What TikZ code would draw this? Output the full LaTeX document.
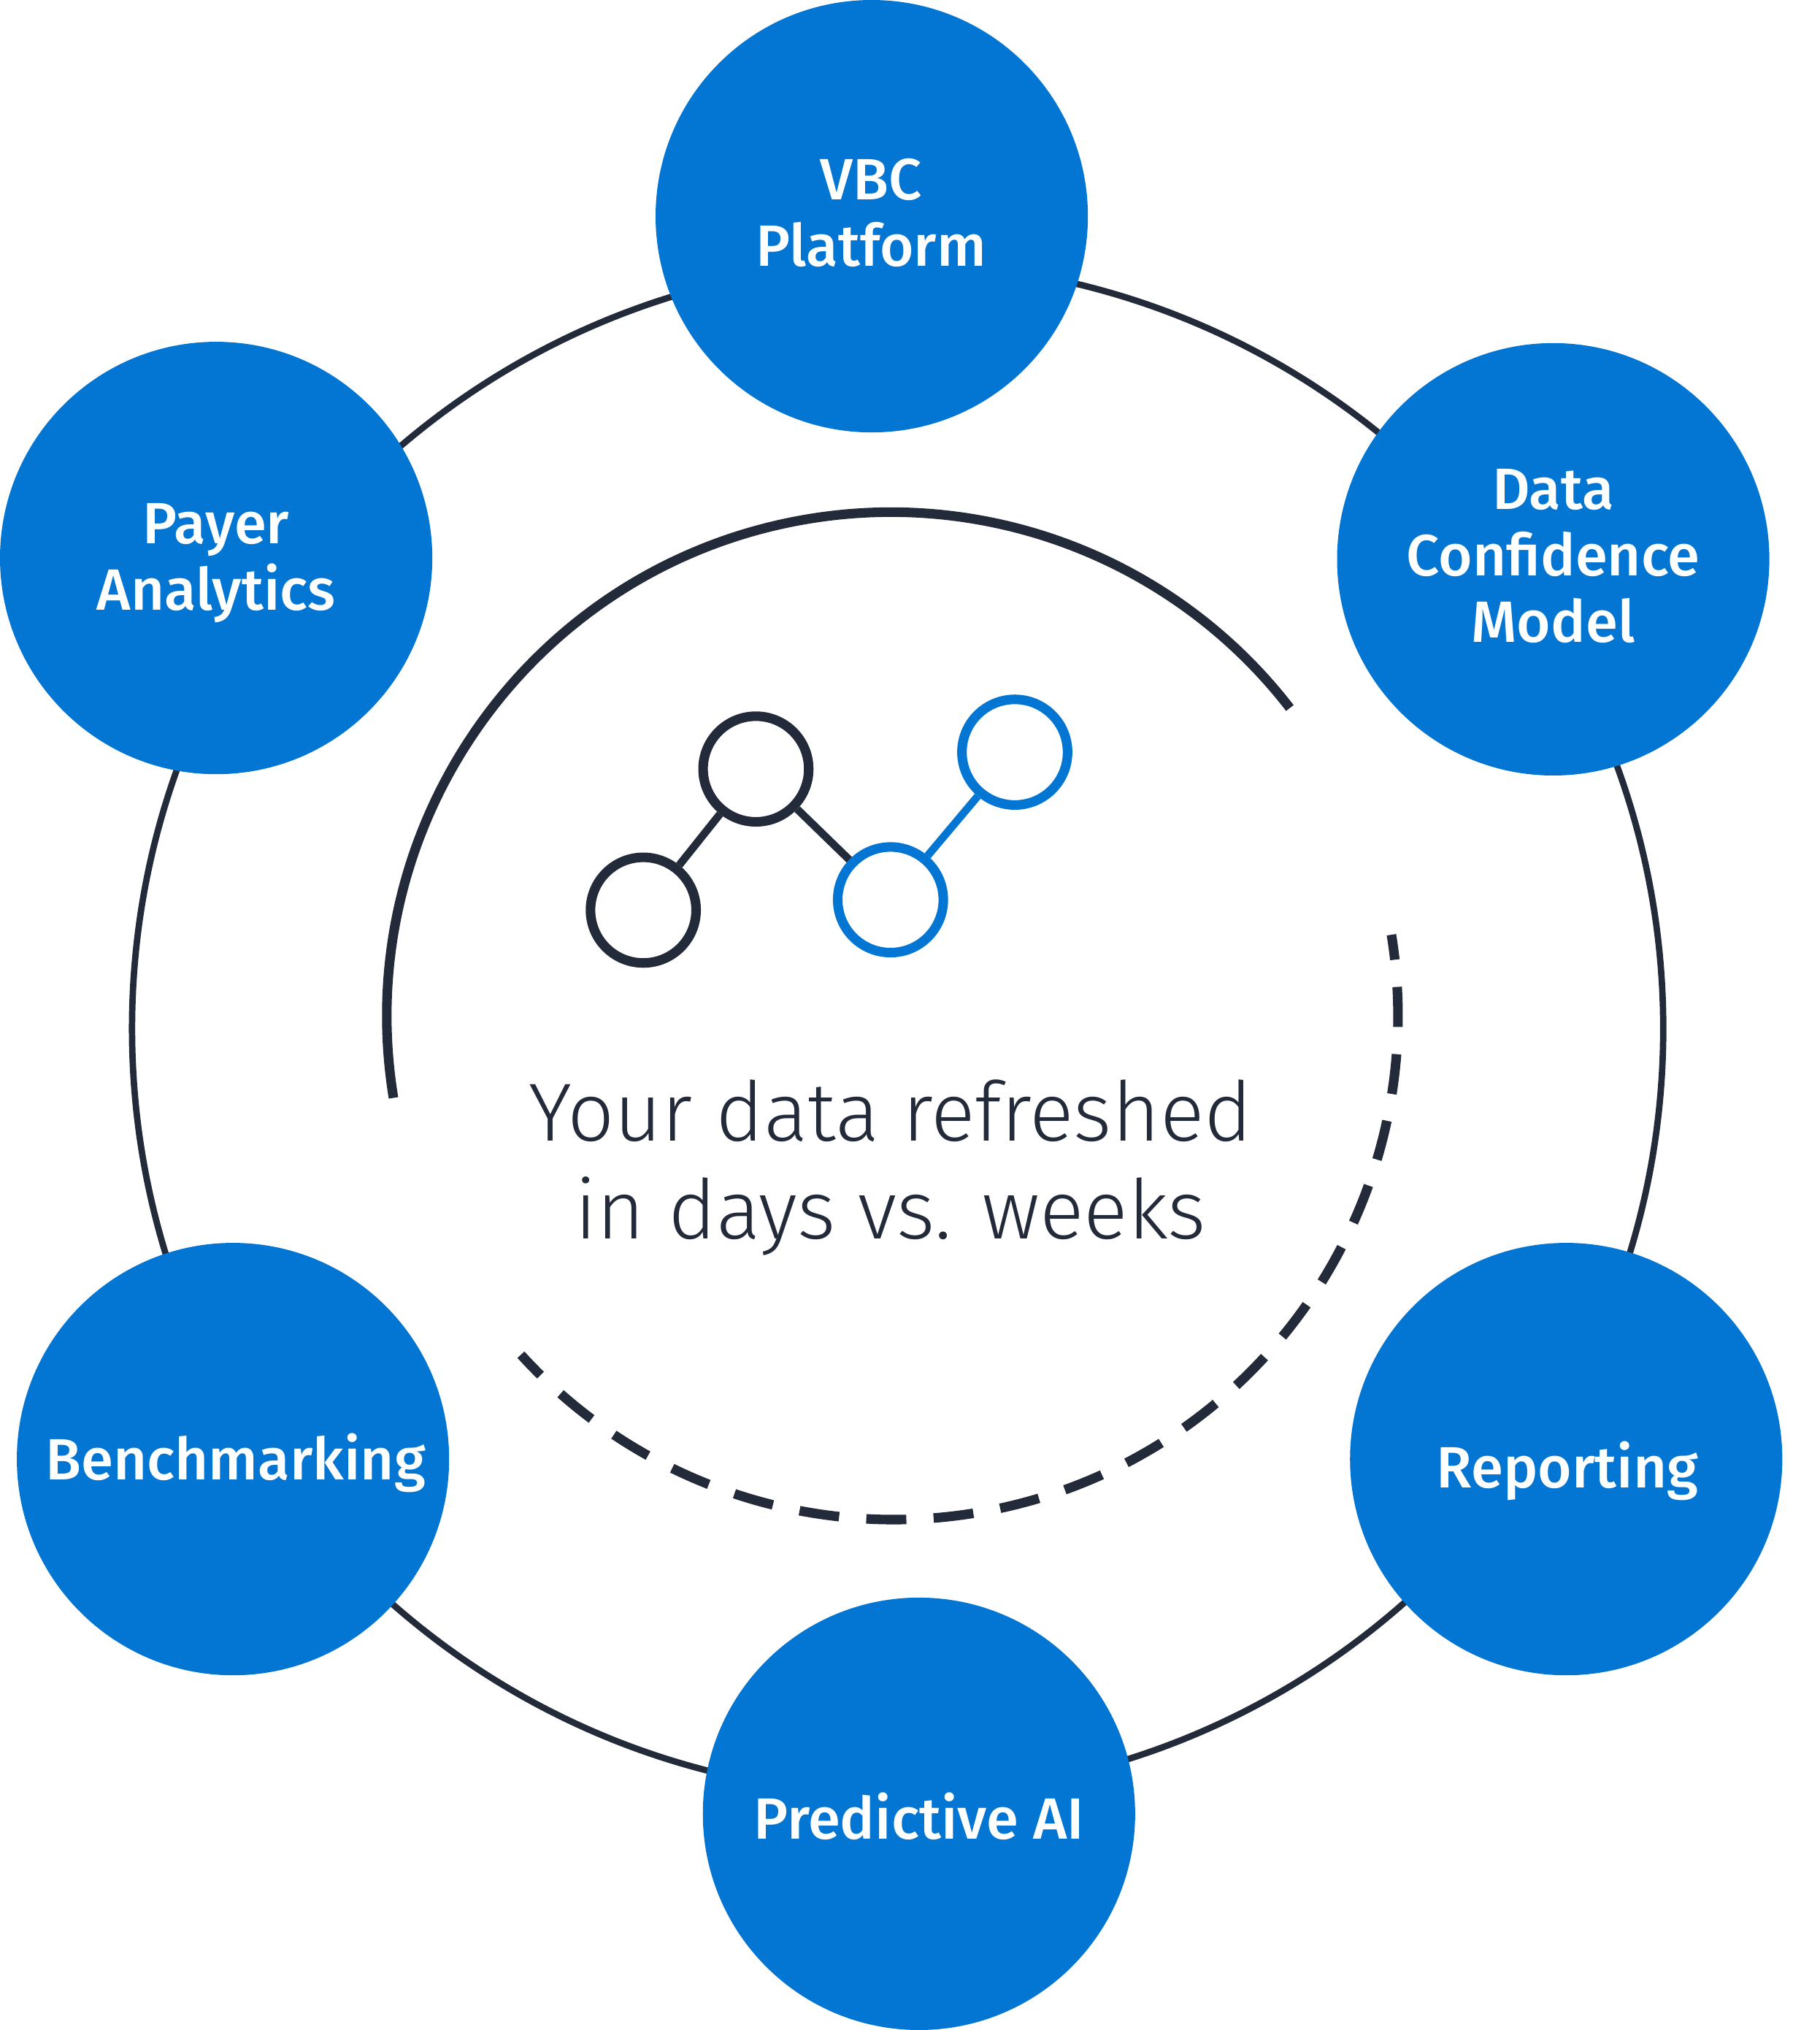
\documentclass[tikz,border=0pt]{standalone}
\usepackage{fontspec}
\setmainfont{Fira Sans}
\newfontfamily\lightf{Fira Sans Light}
\newfontfamily\medf{Fira Sans Medium}
\definecolor{bl}{HTML}{0375D3}
\definecolor{dk}{HTML}{232B3A}
\tikzset{x=0.05cm,y=-0.05cm,
 bub/.style={circle,fill=bl,inner sep=0pt,minimum size=16.7cm},
 lab/.style={text=white,align=center,inner sep=0pt,font=\medf\fontsize{64}{73}\selectfont},
 ring/.style={draw=dk,line width=7pt},
 thickarc/.style={draw=dk,line width=10.5pt},
 dot/.style={circle,draw=#1,fill=none,line width=10.5pt,minimum size=4.08cm,inner sep=0pt}}
\begin{document}
\begin{tikzpicture}
\useasboundingbox (0,0) rectangle (1406,1568);
\coordinate (c) at (693.5,794.5);
\draw[ring] (c) circle[radius=591.5*0.05cm];
\node[bub] (a) at (673.5,167) {};
\node[bub] (b) at (1200,432) {};
\node[bub] (d) at (1210,1127) {};
\node[bub] (e) at (710,1401) {};
\node[bub] (f) at (180,1127) {};
\node[bub] (g) at (167,431) {};
\node[lab] (al) at (673,164.5) {VBC\\Platform};
\node[lab] (bl) at (1200,429.5) {Data\\Confidence\\Model};
\node[lab] (dl) at (1211,1136) {Reporting};
\node[lab] (el) at (710,1403) {Predictive AI};
\node[lab] (fl) at (182,1130) {Benchmarking};
\node[lab] (gl) at (167,435) {Payer\\Analytics};
\draw[thickarc] (304,848) arc[start angle=189.3,end angle=37.7,radius=389.5*0.05cm];
\draw[thickarc,dash pattern=on 44pt off 30pt,dash phase=16.3pt] (1075,722) arc[start angle=9.2,end angle=-137.7,radius=389.5*0.05cm];
\node[dot=dk] (n1) at (497,703) {};
\node[dot=dk] (n2) at (584,594) {};
\node[dot=bl] (n3) at (688,695) {};
\node[dot=bl] (n4) at (784,581) {};
\draw[dk,line width=8.5pt] (n1) -- (n2);
\draw[dk,line width=8.5pt] (n2) -- (n3);
\draw[bl,line width=8.5pt] (n3) -- (n4);
\node[text=dk,align=center,inner sep=0pt,font=\lightf\fontsize{90.5}{108}\selectfont] (t) at (688,902) {Your data refreshed\\in days vs. weeks};
\end{tikzpicture}
\end{document}
